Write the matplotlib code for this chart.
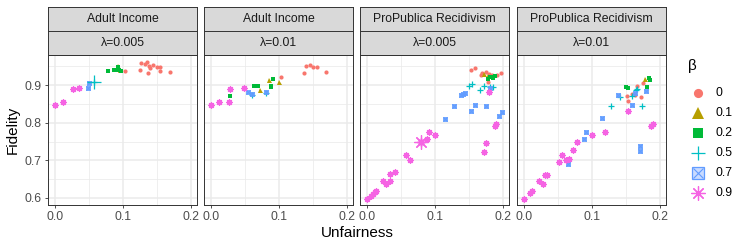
import matplotlib
matplotlib.use("Agg")
import matplotlib.pyplot as plt

plt.rcParams['font.family'] = ['Liberation Sans', 'DejaVu Sans']

# beta levels, colours (ggplot hue palette) and shapes
betas = [0, 0.1, 0.2, 0.5, 0.7, 0.9]
beta_labels = ["0", "0.1", "0.2", "0.5", "0.7", "0.9"]
colors = ["#F8766D", "#B79F00", "#00BA38", "#00BFC4", "#619CFF", "#F564E3"]

datasets = ["Adult Income", "Adult Income", "ProPublica Recidivism", "ProPublica Recidivism"]
lambdas = ["λ=0.005", "λ=0.01", "λ=0.005", "λ=0.01"]

# ---- Adult Income, lambda = 0.005
ai005_x = [0.103, 0.127, 0.133, 0.136, 0.139, 0.140, 0.145, 0.150, 0.155, 0.155, 0.137, 0.126, 0.169,
           0.093, 0.096,
           0.079, 0.087, 0.090, 0.094, 0.093, 0.097,
           0.058,
           0.049, 0.050,
           0.000, 0.012, 0.027, 0.036]
ai005_y = [0.937, 0.958, 0.957, 0.962, 0.951, 0.944, 0.953, 0.948, 0.947, 0.937, 0.931, 0.939, 0.935,
           0.950, 0.941,
           0.936, 0.940, 0.941, 0.941, 0.948, 0.938,
           0.907,
           0.891, 0.905,
           0.848, 0.855, 0.889, 0.893]
ai005_b = [0] * 13 + [0.1] * 2 + [0.2] * 6 + [0.5] + [0.7] * 2 + [0.9] * 4
ai005_big = [(0.058, 0.907, 0.5)]

# ---- Adult Income, lambda = 0.01
ai01_x = [0.103, 0.137, 0.140, 0.146, 0.150, 0.156, 0.170,
          0.073, 0.086, 0.100,
          0.028, 0.064, 0.070, 0.089, 0.092, 0.088,
          0.061, 0.082,
          0.055, 0.061, 0.082,
          0.000, 0.012, 0.027, 0.028, 0.049]
ai01_y = [0.921, 0.931, 0.951, 0.954, 0.949, 0.947, 0.935,
          0.887, 0.914, 0.909,
          0.870, 0.898, 0.897, 0.898, 0.915, 0.895,
          0.874, 0.880,
          0.882, 0.876, 0.881,
          0.847, 0.855, 0.856, 0.889, 0.891]
ai01_b = [0] * 7 + [0.1] * 3 + [0.2] * 6 + [0.5] * 2 + [0.7] * 3 + [0.9] * 5
ai01_big = []

# ---- ProPublica, lambda = 0.005
pp005_x = [0.153, 0.159, 0.168, 0.175, 0.178, 0.185, 0.192, 0.198, 0.170, 0.180,
           0.173, 0.178,
           0.179, 0.184, 0.186, 0.188, 0.182,
           0.150, 0.155, 0.167, 0.172, 0.182, 0.186,
           0.115, 0.129, 0.139, 0.141, 0.145, 0.154, 0.160, 0.175, 0.195, 0.199, 0.181,
           0.000, 0.0064, 0.0098, 0.012, 0.0137, 0.0235, 0.0284, 0.035, 0.035, 0.042, 0.058,
           0.063, 0.088, 0.092, 0.101, 0.172, 0.175, 0.188, 0.190, 0.180]
pp005_y = [0.941, 0.946, 0.927, 0.934, 0.909, 0.927, 0.926, 0.932, 0.931, 0.930,
           0.929, 0.925,
           0.916, 0.922, 0.918, 0.924, 0.920,
           0.898, 0.902, 0.888, 0.897, 0.895, 0.895,
           0.810, 0.844, 0.873, 0.875, 0.880, 0.831, 0.847, 0.844, 0.819, 0.829, 0.893,
           0.597, 0.604, 0.610, 0.617, 0.619, 0.646, 0.636, 0.646, 0.663, 0.670, 0.715,
           0.700, 0.757, 0.775, 0.768, 0.723, 0.746, 0.791, 0.796, 0.882]
pp005_b = [0] * 10 + [0.1] * 2 + [0.2] * 5 + [0.5] * 6 + [0.7] * 11 + [0.9] * 20
pp005_big = [(0.080, 0.749, 0.9)]

# ---- ProPublica, lambda = 0.01
pp01_x = [0.152, 0.153, 0.159, 0.167, 0.173, 0.175, 0.163,
          0.178,
          0.150, 0.153, 0.181, 0.185, 0.186,
          0.128, 0.142, 0.160, 0.165, 0.167, 0.174,
          0.065, 0.088, 0.092, 0.115, 0.138, 0.159, 0.171, 0.171, 0.180, 0.164,
          0.000, 0.0098, 0.0127, 0.023, 0.028, 0.031, 0.034, 0.052, 0.057, 0.062, 0.066,
          0.073, 0.079, 0.100, 0.119, 0.153, 0.187, 0.190]
pp01_y = [0.872, 0.857, 0.877, 0.897, 0.869, 0.905, 0.874,
          0.916,
          0.896, 0.893, 0.896, 0.918, 0.914,
          0.844, 0.869, 0.872, 0.887, 0.890, 0.844,
          0.691, 0.756, 0.775, 0.813, 0.873, 0.848, 0.737, 0.724, 0.884, 0.878,
          0.597, 0.612, 0.619, 0.646, 0.637, 0.661, 0.661, 0.695, 0.715, 0.700, 0.704,
          0.728, 0.749, 0.768, 0.775, 0.831, 0.792, 0.796]
pp01_b = [0] * 7 + [0.1] + [0.2] * 5 + [0.5] * 6 + [0.7] * 10 + [0.9] * 18
pp01_big = []

panels = [(ai005_x, ai005_y, ai005_b, ai005_big),
          (ai01_x, ai01_y, ai01_b, ai01_big),
          (pp005_x, pp005_y, pp005_b, pp005_big),
          (pp01_x, pp01_y, pp01_b, pp01_big)]

W, H = 747, 249
fig = plt.figure(figsize=(W / 100, H / 100), dpi=100)

grey20 = "#333333"
grey30 = "#4D4D4D"
grid_c = "#EBEBEB"


def draw_marker(ax, xs, ys, b, scale=1.0, legend=False):
    c = colors[betas.index(b)]
    kw = dict(linestyle="none", color=c, clip_on=False)
    if b == 0:
        ax.plot(xs, ys, marker="o", ms=3.0 * scale, mew=0, **kw)
    elif b == 0.1:
        ax.plot(xs, ys, marker="^", ms=3.6 * scale, mew=0, **kw)
    elif b == 0.2:
        ax.plot(xs, ys, marker="s", ms=3.2 * scale, mew=0, **kw)
    elif b == 0.5:
        ax.plot(xs, ys, marker="+", ms=4.8 * scale, mew=0.9, **kw)
    elif b == 0.7:
        if legend:
            ax.plot(xs, ys, marker="s", ms=3.6 * scale, mfc="#C9DBFF", mew=0.9, **kw)
        else:
            ax.plot(xs, ys, marker="s", ms=3.6 * scale, mew=0, alpha=0.85, **kw)
        ax.plot(xs, ys, marker="x", ms=3.0 * scale, mew=0.8, **kw)
    else:
        ax.plot(xs, ys, marker=(8, 2, 0), ms=4.6 * scale, mew=0.9, **kw)
        if not legend:
            ax.plot(xs, ys, marker="o", ms=2.6 * scale, mew=0, alpha=0.6, **kw)


def fx(px):
    return px / W


def fy(py):
    return 1 - py / H


lefts = [48, 204, 360, 517]
pw = 149
top, bottom = 55, 205
for k, (xs, ys, bs, big) in enumerate(panels):
    ax = fig.add_axes([fx(lefts[k]), fy(bottom), pw / W, (bottom - top) / H])
    ax.set_xlim(-0.0098, 0.2093)
    ax.set_ylim(0.5814, 0.9797)
    ax.set_xticks([0, 0.1, 0.2])
    ax.set_xticks([0.05, 0.15], minor=True)
    ax.set_yticks([0.6, 0.7, 0.8, 0.9])
    ax.set_yticks([0.65, 0.75, 0.85, 0.95], minor=True)
    ax.set_xticklabels(["0.0", "0.1", "0.2"])
    ax.grid(which="major", color=grid_c, lw=1.1)
    ax.grid(which="minor", color=grid_c, lw=0.55)
    ax.set_axisbelow(True)
    ax.tick_params(which="minor", length=0)
    ax.tick_params(which="major", length=2.5, width=0.6, color=grey20,
                   labelsize=8.8, labelcolor=grey30, pad=2)
    if k > 0:
        ax.set_yticklabels([])
        ax.tick_params(axis="y", length=0)
    for s in ax.spines.values():
        s.set_color(grey20)
        s.set_linewidth(0.7)
    for b in betas:
        px = [x for x, bb in zip(xs, bs) if bb == b]
        py = [y for y, bb in zip(ys, bs) if bb == b]
        if px:
            draw_marker(ax, px, py, b)
    for (x, y, b) in big:
        draw_marker(ax, [x], [y], b, scale=2.2)

    # facet strips
    for txt, y0, y1 in [(datasets[k], 7, 31), (lambdas[k], 31, 55)]:
        sax = fig.add_axes([fx(lefts[k]), fy(y1), pw / W, (y1 - y0) / H])
        sax.set_facecolor("#D9D9D9")
        sax.set_xticks([])
        sax.set_yticks([])
        for s in sax.spines.values():
            s.set_color(grey20)
            s.set_linewidth(0.7)
        sax.text(0.5, 0.5, txt, ha="center", va="center", fontsize=8.8,
                 color="#1A1A1A", transform=sax.transAxes)

fig.text(fx(357), fy(233), "Unfairness", ha="center", va="center", fontsize=11)
fig.text(fx(13), fy(130), "Fidelity", ha="center", va="center", fontsize=11, rotation=90)

# legend
lax = fig.add_axes([fx(670), fy(205), 77 / W, 150 / H])
lax.set_xlim(670, 747)
lax.set_ylim(205, 55)
lax.axis("off")
lax.text(688, 66, "β", ha="left", va="center", fontsize=11)
for i, b in enumerate(betas):
    yy = 93 + 20 * i
    draw_marker(lax, [698], [yy], b, scale=2.2, legend=True)
    lax.text(716, yy, beta_labels[i], ha="left", va="center", fontsize=8.8, color="black")

fig.savefig("out.png", dpi=100)
